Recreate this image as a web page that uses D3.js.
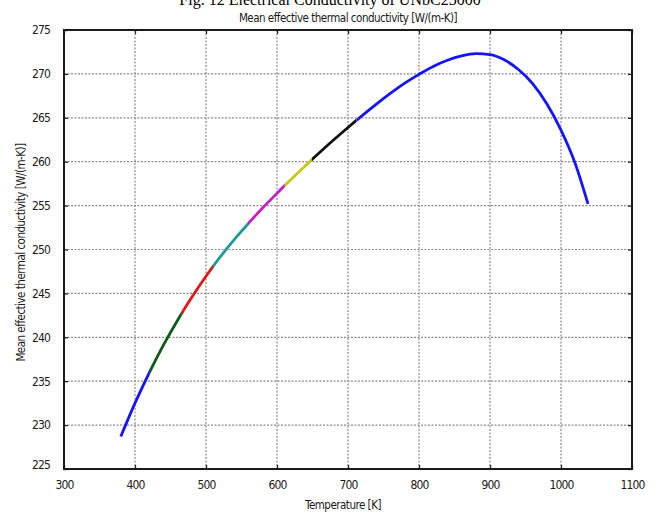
<!DOCTYPE html>
<html>
<head>
<meta charset="utf-8">
<script src="https://cdn.jsdelivr.net/npm/d3@7"></script>
<style>
  body { margin: 0; background: #fff; }
  svg { display: block; }
  .tick-lbl { font-family: "DejaVu Sans Condensed", "Liberation Sans Narrow", sans-serif; font-size: 12px; letter-spacing: -0.9px; fill: #1a1a1a; }
</style>
</head>
<body>
<div id="chart"></div>
<script>
// mean effective thermal conductivity vs temperature
const temps = [380, 400, 420, 440, 460, 480, 500, 520, 540, 560, 580, 600, 620, 640, 660, 680, 700,
  720, 740, 760, 780, 800, 820, 840, 860, 880, 900, 920, 940, 960, 980, 1000, 1020, 1038];
const conductivity = [228.7, 232.5, 235.95, 239.1, 241.95, 244.55, 246.95, 249.15, 251.15, 253.0, 254.75,
  256.4, 258.0, 259.55, 261.05, 262.5, 263.9, 265.25, 266.55, 267.8, 268.95, 269.95, 270.85, 271.55,
  272.05, 272.3, 272.2, 271.6, 270.5, 268.9, 266.6, 263.6, 259.8, 255.2];

// the curve changes colour at these temperatures (one colour per piece)
const segBreaks = [380, 421, 466, 510, 559, 611, 649, 712, 1038];
const segColors = ["#1414ff", "#0d5a1a", "#e01818", "#1e9a9a", "#c81cc8", "#c8c814", "#111111", "#1414ff"];

const xTicks = [300, 400, 500, 600, 700, 800, 900, 1000, 1100];
const yTicks = [225, 230, 235, 240, 245, 250, 255, 260, 265, 270, 275];

const figCaption = "Fig. 12  Electrical Conductivity of UNbC25000";
const plotTitle = "Mean effective thermal conductivity [W/(m-K)]";
const xTitle = "Temperature [K]";
const yTitle = "Mean effective thermal conductivity [W/(m-K)]";

const margin = { top: 30, right: 26, bottom: 47, left: 64 };
const W = 658, H = 516;
const width = W - margin.left - margin.right;
const height = H - margin.top - margin.bottom;

const svg = d3.select("#chart").append("svg")
  .attr("width", W)
  .attr("height", H);

// caption cut off at the top of the image
svg.append("text")
  .attr("x", 330).attr("y", 5)
  .attr("text-anchor", "middle")
  .style("font-family", "Liberation Serif, serif")
  .style("font-size", "16px")
  .text(figCaption);

const g = svg.append("g").attr("transform", `translate(${margin.left},${margin.top})`);

const x = d3.scaleLinear().domain([300, 1100]).range([0, width]);
const y = d3.scaleLinear().domain([225, 275]).range([height, 0]);

// dotted grid
g.append("g").selectAll("line").data(xTicks.slice(1, -1)).join("line")
  .attr("x1", d => x(d)).attr("x2", d => x(d))
  .attr("y1", 0).attr("y2", height)
  .attr("stroke", "#8a8a8a").attr("stroke-width", 1.2).attr("stroke-dasharray", "2,1.5");
g.append("g").selectAll("line").data(yTicks.slice(1, -1)).join("line")
  .attr("x1", 0).attr("x2", width)
  .attr("y1", d => y(d)).attr("y2", d => y(d))
  .attr("stroke", "#8a8a8a").attr("stroke-width", 1.2).attr("stroke-dasharray", "2,1.5");

// axes with inward ticks on all four sides
const axB = g.append("g").attr("transform", `translate(0,${height})`)
  .call(d3.axisBottom(x).tickValues(xTicks).tickSize(-4).tickPadding(9).tickFormat(d3.format("d")));
const axL = g.append("g")
  .call(d3.axisLeft(y).tickValues(yTicks).tickSize(-4).tickPadding(14).tickFormat(d3.format("d")));
g.append("g").call(d3.axisTop(x).tickValues(xTicks).tickSize(-4).tickFormat(""));
g.append("g").attr("transform", `translate(${width},0)`)
  .call(d3.axisRight(y).tickValues(yTicks).tickSize(-4).tickFormat(""));
g.selectAll(".domain").remove();
g.selectAll(".tick line").attr("stroke", "#222").attr("stroke-width", 1.3);
axB.selectAll("text").attr("class", "tick-lbl").attr("dy", "0.9em");
axL.selectAll("text").attr("class", "tick-lbl");
axL.selectAll(".tick text").filter(d => d === 225).attr("dy", "-0.05em");

// frame
g.append("rect")
  .attr("width", width).attr("height", height)
  .attr("fill", "none").attr("stroke", "#1a1a1a").attr("stroke-width", 2);

// curve, drawn once per colour piece and clipped to its temperature range
const pts = temps.map((t, i) => [t, conductivity[i]]);
const line = d3.line()
  .x(d => x(d[0])).y(d => y(d[1]))
  .curve(d3.curveMonotoneX);

const defs = svg.append("defs");
segColors.forEach((c, i) => {
  defs.append("clipPath").attr("id", "seg" + i)
    .append("rect")
    .attr("x", x(segBreaks[i]) - (i === 0 ? 3 : 0))
    .attr("width", x(segBreaks[i + 1]) - x(segBreaks[i]) + (i === segColors.length - 1 || i === 0 ? 3 : 0))
    .attr("y", -5).attr("height", height + 10);
  g.append("path")
    .datum(pts)
    .attr("clip-path", `url(#seg${i})`)
    .attr("fill", "none")
    .attr("stroke", c)
    .attr("stroke-width", 2.8)
    .attr("d", line);
});

// titles
svg.append("text")
  .attr("x", margin.left + width / 2).attr("y", 22)
  .attr("text-anchor", "middle")
  .attr("class", "tick-lbl")
  .style("font-size", "11.5px").style("letter-spacing", "-0.5px")
  .text(plotTitle);

svg.append("text")
  .attr("x", margin.left + width / 2 - 5).attr("y", 509)
  .attr("text-anchor", "middle")
  .attr("class", "tick-lbl")
  .style("font-size", "11.5px").style("letter-spacing", "-0.5px")
  .text(xTitle);

svg.append("text")
  .attr("transform", `translate(25,${margin.top + height / 2 + 3}) rotate(-90)`)
  .attr("text-anchor", "middle")
  .attr("class", "tick-lbl")
  .style("font-size", "11.5px").style("letter-spacing", "-0.5px")
  .text(yTitle);
</script>
</body>
</html>
